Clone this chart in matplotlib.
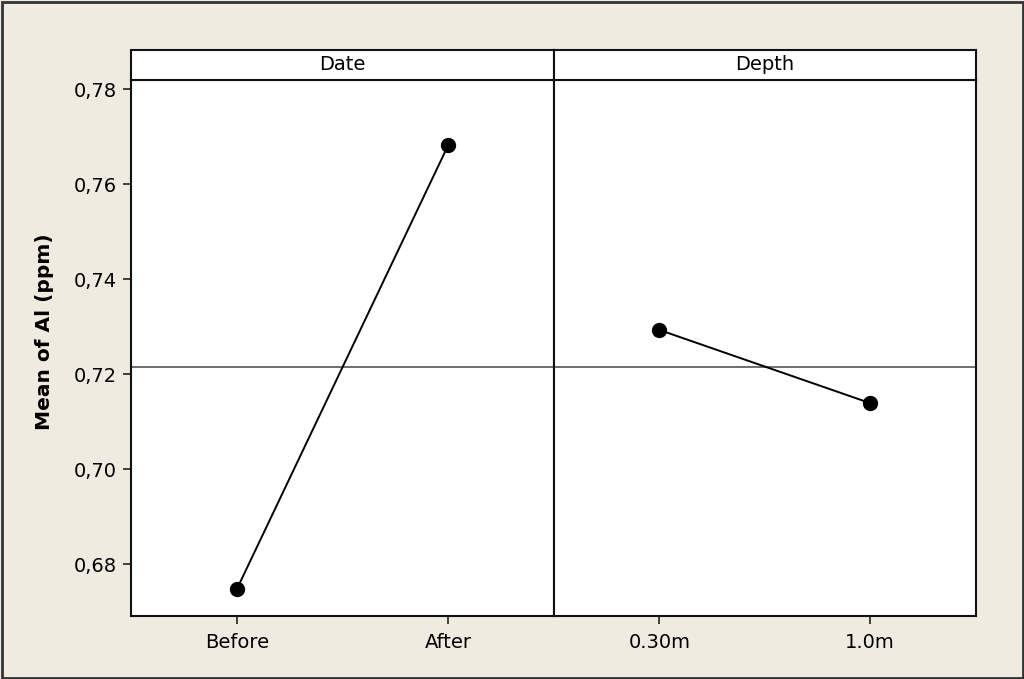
import matplotlib
matplotlib.use("Agg")
import matplotlib.pyplot as plt
from matplotlib.patches import Rectangle

# Data
factors = ["Date", "Depth"]
date_levels = ["Before", "After"]
date_means = [0.6747, 0.7682]
depth_levels = ["0.30m", "1.0m"]
depth_means = [0.7293, 0.7139]
grand_mean = 0.7215
y_ticks = [0.68, 0.70, 0.72, 0.74, 0.76, 0.78]
y_tick_labels = ["0,68", "0,70", "0,72", "0,74", "0,76", "0,78"]
y_label = "Mean of Al (ppm)"

W, H = 1024, 679
bg = "#EFEBE1"
fig = plt.figure(figsize=(W / 100, H / 100), dpi=100, facecolor=bg)
plt.rcParams['font.family'] = ['DejaVu Sans']

left, mid, right = 131 / W, 554 / W, 975.5 / W
bottom, top, htop = 1 - 616 / H, 1 - 80 / H, 1 - 50 / H

ylim = (0.6691, 0.7819)
panels = [(left, mid, date_levels, date_means, factors[0]),
          (mid, right, depth_levels, depth_means, factors[1])]

for i, (x0, x1, levels, means, name) in enumerate(panels):
    ax = fig.add_axes([x0, bottom, x1 - x0, top - bottom])
    ax.set_facecolor("white")
    xs = list(range(len(levels)))
    ax.axhline(grand_mean, color="#6e6e6e", lw=1.4, zorder=1)
    ax.plot(xs, means, color="black", lw=1.4, marker="o", ms=10,
            mfc="black", mec="black", zorder=3)
    ax.set_xlim(-0.5, 1.5)
    ax.set_ylim(*ylim)
    ax.set_xticks(xs)
    ax.set_xticklabels(levels, fontsize=14)
    ax.tick_params(axis="x", direction="out", length=6, width=1.2, pad=6,
                   color="#222222")
    if i == 0:
        ax.set_yticks(y_ticks)
        ax.set_yticklabels(y_tick_labels, fontsize=14)
        ax.tick_params(axis="y", direction="out", length=6, width=1.2, pad=4,
                       color="#222222")
    else:
        ax.set_yticks([])
    for s in ax.spines.values():
        s.set_linewidth(1.5)
        s.set_color("#111111")

    hx = fig.add_axes([x0, top, x1 - x0, htop - top])
    hx.set_facecolor("white")
    hx.set_xticks([])
    hx.set_yticks([])
    for s in hx.spines.values():
        s.set_linewidth(1.5)
        s.set_color("#111111")
    hx.text(0.5, 0.5, name, ha="center", va="center", fontsize=14,
            transform=hx.transAxes)

fig.text(45 / W, 1 - 332 / H, y_label, rotation=90, ha="center",
         va="center", fontsize=14.5, fontweight="bold")

fig.patches.append(Rectangle((1.5 / W, 1.5 / H), (W - 3) / W, (H - 3) / H,
                             transform=fig.transFigure, fill=False,
                             edgecolor="#333333", lw=2))

fig.savefig("out.png", dpi=100, facecolor=bg)
